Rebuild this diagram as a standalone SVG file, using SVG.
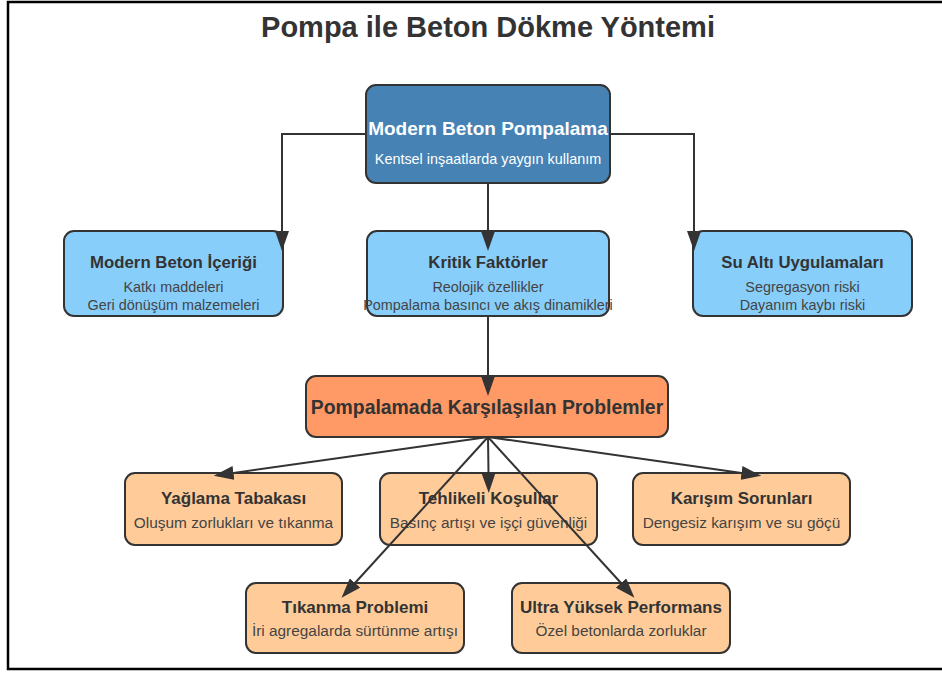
<svg xmlns="http://www.w3.org/2000/svg" width="942" height="673" viewBox="0 0 942 673">
<defs>
<style>
text{font-family:"Liberation Sans",Arial,sans-serif;text-anchor:middle;}
.box{stroke:#333;stroke-width:2;}
.main{fill:#4682B4;}
.blue{fill:#87CEFA;}
.prob{fill:#FF9966;}
.sub{fill:#FFCC99;}
.t1{font-size:19px;font-weight:bold;fill:#fff;}
.s1{font-size:14.4px;fill:#fff;}
.t2{font-size:16.8px;font-weight:bold;fill:#333;}
.s2{font-size:14.4px;fill:#444;}
.t4{font-size:17px;font-weight:bold;fill:#333;}
.s4{font-size:15.4px;fill:#444;}
.t3{font-size:19.4px;font-weight:bold;fill:#333;}
.conn{fill:none;stroke:#333;stroke-width:2;marker-end:url(#arrow);}
</style>
<marker id="arrow" markerWidth="10" markerHeight="7" refX="0" refY="3.5" orient="auto">
<polygon points="0 0, 10 3.5, 0 7" fill="#333"/>
</marker>
</defs>
<rect x="0" y="0" width="942" height="673" fill="#fff"/>
<rect x="8" y="2" width="950" height="667" fill="none" stroke="#000" stroke-width="2.5"/>
<text x="488" y="37" style="font-size:29px;font-weight:bold;fill:#333">Pompa ile Beton Dökme Yöntemi</text>

<g id="node-main">
<rect class="box main" x="366" y="85" width="244" height="98" rx="10"/>
<text class="t1" x="488" y="135">Modern Beton Pompalama</text>
<text class="s1" x="488" y="164">Kentsel inşaatlarda yaygın kullanım</text>
</g>
<g id="node-icerik">
<rect class="box blue" x="64" y="231" width="219" height="85" rx="10"/>
<text class="t2" x="173.5" y="268">Modern Beton İçeriği</text>
<text class="s2" x="173.5" y="292">Katkı maddeleri</text>
<text class="s2" x="173.5" y="310">Geri dönüşüm malzemeleri</text>
</g>
<g id="node-kritik">
<rect class="box blue" x="367" y="231" width="242" height="85" rx="10"/>
<text class="t2" x="488" y="268">Kritik Faktörler</text>
<text class="s2" x="488" y="292">Reolojik özellikler</text>
<text class="s2" x="488" y="310">Pompalama basıncı ve akış dinamikleri</text>
</g>
<g id="node-sualti">
<rect class="box blue" x="693" y="231" width="219" height="85" rx="10"/>
<text class="t2" x="802.5" y="268">Su Altı Uygulamaları</text>
<text class="s2" x="802.5" y="292">Segregasyon riski</text>
<text class="s2" x="802.5" y="310">Dayanım kaybı riski</text>
</g>
<g id="node-problemler">
<rect class="box prob" x="306" y="376" width="362" height="61" rx="10"/>
<text class="t3" x="487" y="414">Pompalamada Karşılaşılan Problemler</text>
</g>
<g id="node-yaglama">
<rect class="box sub" x="125" y="473" width="217" height="72" rx="10"/>
<text class="t4" x="233.5" y="504">Yağlama Tabakası</text>
<text class="s4" x="233.5" y="528">Oluşum zorlukları ve tıkanma</text>
</g>
<g id="node-tehlikeli">
<rect class="box sub" x="380" y="473" width="217" height="72" rx="10"/>
<text class="t4" x="488.5" y="504">Tehlikeli Koşullar</text>
<text class="s4" x="488.5" y="528">Basınç artışı ve işçi güvenliği</text>
</g>
<g id="node-karisim">
<rect class="box sub" x="633" y="473" width="217" height="72" rx="10"/>
<text class="t4" x="741.5" y="504">Karışım Sorunları</text>
<text class="s4" x="741.5" y="528">Dengesiz karışım ve su göçü</text>
</g>
<g id="node-tikanma">
<rect class="box sub" x="246" y="583" width="218" height="70" rx="10"/>
<text class="t4" x="355" y="613">Tıkanma Problemi</text>
<text class="s4" x="355" y="636">İri agregalarda sürtünme artışı</text>
</g>
<g id="node-ultra">
<rect class="box sub" x="512" y="583" width="218" height="70" rx="10"/>
<text class="t4" x="621" y="613">Ultra Yüksek Performans</text>
<text class="s4" x="621" y="636">Özel betonlarda zorluklar</text>
</g>

<g id="connectors">
<path class="conn" d="M366 134 H282 V231"/>
<path class="conn" d="M488 183 V231"/>
<path class="conn" d="M610 134 H694 V231"/>
<path class="conn" d="M488 316 V376"/>
<path class="conn" d="M488 437 L233.5 473"/>
<path class="conn" d="M488 437 L488.5 473"/>
<path class="conn" d="M488 437 L741.5 473"/>
<path class="conn" d="M488 437 L355 583"/>
<path class="conn" d="M488 437 L621 583"/>
</g>
</svg>
